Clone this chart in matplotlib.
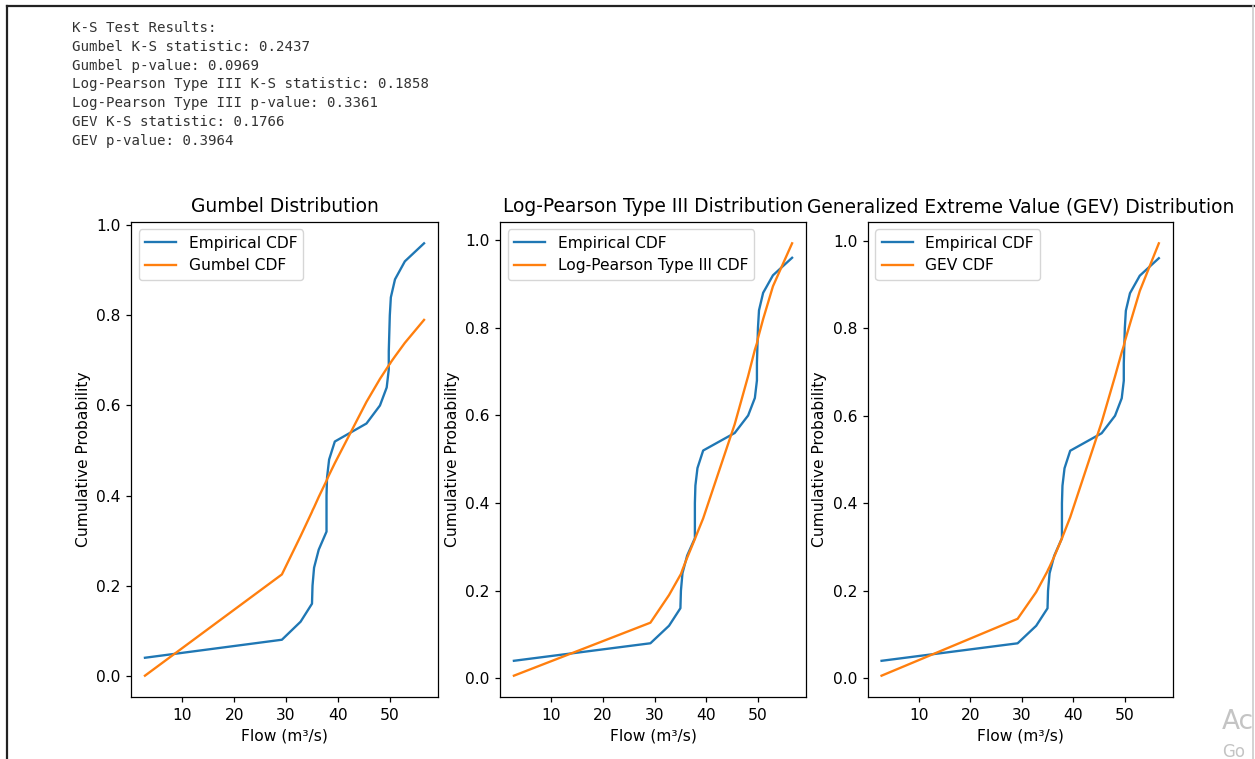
import numpy as np
import matplotlib
matplotlib.use("Agg")
import matplotlib.pyplot as plt
from matplotlib.lines import Line2D

# sorted annual flows (m3/s)
flow = [2.8, 29.2, 32.8, 35.0, 35.1, 35.4, 36.3, 37.8, 37.8, 37.8, 37.9, 38.3,
        39.4, 45.5, 48.1, 49.4, 49.8, 49.8, 49.9, 50.0, 50.2, 51.0, 52.9, 56.6]
emp_cdf = [0.04, 0.08, 0.12, 0.16, 0.20, 0.24, 0.28, 0.32, 0.36, 0.40, 0.44, 0.48,
           0.52, 0.56, 0.60, 0.64, 0.68, 0.72, 0.76, 0.80, 0.84, 0.88, 0.92, 0.96]

gumbel_cdf = [0.0002, 0.225, 0.310, 0.364, 0.367, 0.374, 0.397, 0.433, 0.433, 0.433,
              0.436, 0.446, 0.472, 0.608, 0.659, 0.682, 0.689, 0.689, 0.691, 0.692,
              0.696, 0.709, 0.739, 0.790]
lp3_cdf = [0.006, 0.127, 0.190, 0.236, 0.238, 0.248, 0.275, 0.318, 0.318, 0.318,
           0.321, 0.333, 0.365, 0.580, 0.690, 0.750, 0.765, 0.765, 0.770, 0.776,
           0.785, 0.820, 0.895, 0.993]
gev_cdf = [0.006, 0.136, 0.197, 0.245, 0.248, 0.255, 0.278, 0.320, 0.320, 0.320,
           0.323, 0.335, 0.368, 0.585, 0.690, 0.745, 0.760, 0.760, 0.765, 0.770,
           0.778, 0.810, 0.885, 0.994]

titles = ["Gumbel Distribution", "Log-Pearson Type III Distribution",
          "Generalized Extreme Value (GEV) Distribution"]
fit_labels = ["Gumbel CDF", "Log-Pearson Type III CDF", "GEV CDF"]
fits = [gumbel_cdf, lp3_cdf, gev_cdf]

ks_lines = [
    "K-S Test Results:",
    "Gumbel K-S statistic: 0.2437",
    "Gumbel p-value: 0.0969",
    "Log-Pearson Type III K-S statistic: 0.1858",
    "Log-Pearson Type III p-value: 0.3361",
    "GEV K-S statistic: 0.1766",
    "GEV p-value: 0.3964",
]

# the screenshot is scaled up ~1.12x from a default matplotlib figure
s = 1.12
plt.rcParams.update({
    "font.size": 10 * s,
    "axes.titlesize": 12 * s,
    "lines.linewidth": 1.5 * s,
    "axes.linewidth": 0.8 * s,
    "xtick.major.size": 3.5 * s,
    "ytick.major.size": 3.5 * s,
    "xtick.major.width": 0.8 * s,
    "ytick.major.width": 0.8 * s,
    "axes.titlepad": 6 * s,
})

W, H = 1255, 759
fig = plt.figure(figsize=(W / 100, H / 100), dpi=100)

# printed output above the figure
for i, line in enumerate(ks_lines):
    fig.text(72 / W, 1 - (28 + i * 18.8) / H, line, family="DejaVu Sans Mono",
             fontsize=10.2, color="#333333", va="center", ha="left")

# notebook cell frame
fig.add_artist(Line2D([7 / W, 7 / W], [0, 1 - 6 / H], color="#222222", lw=1.6))
fig.add_artist(Line2D([7 / W, 1], [1 - 6 / H, 1 - 6 / H], color="#222222", lw=1.6))
fig.add_artist(Line2D([1253 / W, 1253 / W], [0, 1 - 6 / H], color="#cccccc", lw=1.2))

lefts = [131, 500, 867.7]
widths = [307, 306, 305]
top, bottom = 221.7, 697.3
for k in range(3):
    ax = fig.add_axes([lefts[k] / W, (H - bottom) / H, widths[k] / W, (bottom - top) / H])
    ax.plot(flow, emp_cdf, label="Empirical CDF")
    ax.plot(flow, fits[k], label=fit_labels[k])
    ax.set_title(titles[k])
    ax.set_xlabel("Flow (m³/s)")
    ax.set_ylabel("Cumulative Probability")
    ax.legend(loc="upper left")

# windows watermark peeking in
fig.text(1222 / W, 1 - 722 / H, "Ac", fontsize=19, color="#c4c4c4", va="center", ha="left")
fig.text(1222 / W, 1 - 752 / H, "Go", fontsize=12, color="#c4c4c4", va="center", ha="left")

fig.savefig("out.png", dpi=100)
